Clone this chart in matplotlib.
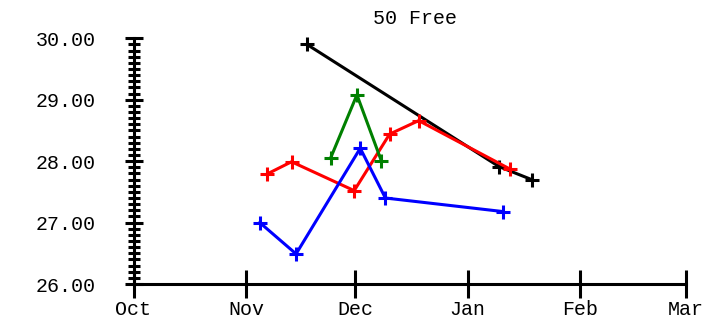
import numpy as np
import pandas as pd
import matplotlib
matplotlib.use('Agg')
import matplotlib.pyplot as plt
import matplotlib.dates as mdates
from matplotlib.ticker import MultipleLocator, FormatStrFormatter

# swim times per swimmer (50 Free)
black_dates = ['2023-11-17 18:00', '2024-01-09 16:00', '2024-01-18 14:00']
black_times = [29.90, 27.91, 27.70]

red_dates = ['2023-11-06 18:00', '2023-11-13 12:00', '2023-11-30 18:00',
             '2023-12-10 12:00', '2023-12-18 12:00', '2024-01-12 16:00']
red_times = [27.79, 27.99, 27.52, 28.44, 28.66, 27.87]

green_dates = ['2023-11-24 06:00', '2023-12-01 12:00', '2023-12-08 06:00']
green_times = [28.05, 29.08, 28.00]

blue_dates = ['2023-11-04 18:00', '2023-11-14 18:00', '2023-12-02 10:00',
              '2023-12-09 08:00', '2024-01-10 14:00']
blue_times = [27.00, 26.49, 28.21, 27.40, 27.18]

plt.rcParams['font.family'] = ['Liberation Mono', 'DejaVu Sans Mono']
plt.rcParams['font.size'] = 14.4

fig = plt.figure(figsize=(7.06, 3.2), dpi=100)
ax = fig.add_axes([133.5 / 706, 36 / 320, (685.7 - 133.5) / 706, (284 - 38.3) / 320])

series = [(black_dates, black_times, 'black'),
          (red_dates, red_times, 'red'),
          (green_dates, green_times, 'green'),
          (blue_dates, blue_times, 'blue')]
for d, t, c in series:
    ax.plot(pd.to_datetime(d), t, color=c, lw=2.2, marker='+', ms=10, mew=2.2,
            clip_on=False)

ax.set_xlim(pd.Timestamp('2023-10-01'), pd.Timestamp('2024-03-01'))
ax.set_ylim(26, 30)

ax.xaxis.set_major_locator(mdates.MonthLocator())
ax.xaxis.set_major_formatter(mdates.DateFormatter('%b'))
ax.yaxis.set_major_locator(MultipleLocator(1))
ax.yaxis.set_minor_locator(MultipleLocator(0.1))
ax.yaxis.set_major_formatter(FormatStrFormatter('%.2f'))

for s in ['top', 'right']:
    ax.spines[s].set_visible(False)
for s in ['left', 'bottom']:
    ax.spines[s].set_linewidth(2.2)

ax.tick_params(axis='x', which='major', direction='inout', length=20, width=2.2, pad=1.5)
ax.tick_params(axis='y', which='major', direction='inout', length=13, width=2.2, pad=21)
ax.tick_params(axis='y', which='minor', direction='inout', length=8, width=2.2)

fig.text(415 / 706, 1 - 19 / 320, '50 Free', ha='center', va='center')

fig.savefig('out.png', dpi=100)
